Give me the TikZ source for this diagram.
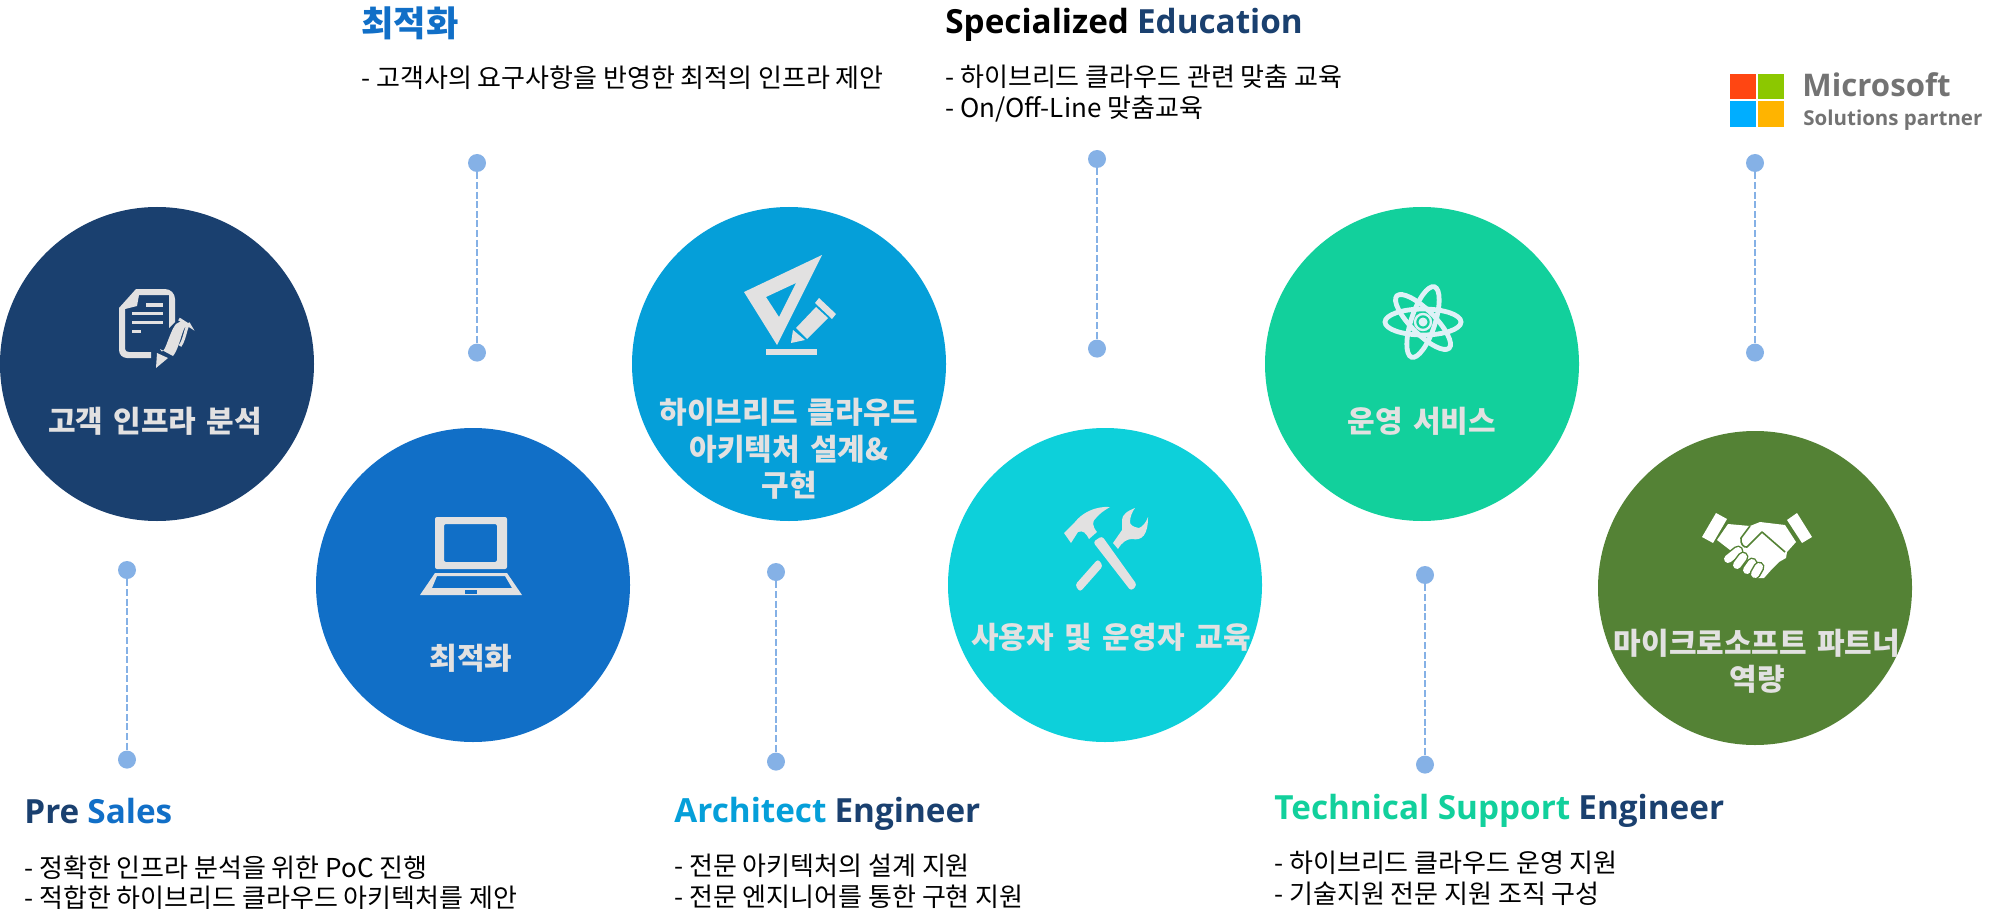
\documentclass[tikz,border=0pt]{standalone}
\usepackage{fontspec}
\setmainfont{Noto Sans CJK KR}
\newfontfamily\lat[Scale=0.945]{Open Sans}
\newfontfamily\med[WordSpace=1.5]{Noto Sans CJK KR}
\newfontfamily\logo{Open Sans}
\usetikzlibrary{positioning}
\definecolor{navy}{HTML}{1A406F}
\definecolor{blue2}{HTML}{116FC7}
\definecolor{sky}{HTML}{059FD9}
\definecolor{cyan2}{HTML}{0DD0DA}
\definecolor{mint}{HTML}{12D09C}
\definecolor{olive2}{HTML}{548235}
\definecolor{lite}{HTML}{E2E1E1}
\definecolor{pale}{HTML}{DFF1F7}
\definecolor{dotc}{HTML}{85B1E6}
\definecolor{msred}{HTML}{FF4612}
\definecolor{msgreen}{HTML}{8CC800}
\definecolor{msblue}{HTML}{00AEFF}
\definecolor{msyellow}{HTML}{FFB400}
\tikzset{
	bubble/.style={circle, minimum size=157pt, inner sep=0pt},
	lbl/.style={text=lite, font=\med\bfseries\fontsize{15}{18.2}\selectfont, align=center, inner sep=0pt},
	head/.style={anchor=west, inner sep=0pt, text height=14pt, text depth=4pt, font=\bfseries\fontsize{17.6}{20}\selectfont},
	body/.style={anchor=north west, inner sep=0pt, align=left, font=\fontsize{13}{15.3}\selectfont},
	pin/.style={circle, fill=dotc, minimum size=9pt, inner sep=0pt},
	icon/.style={fill=lite, draw=none},
	orbit/.style={draw=pale, line width=2.4pt}
}
\begin{document}
\begin{tikzpicture}[x=0.5pt, y=-0.5pt, node distance=94.8pt]
		\useasboundingbox (0,0) rectangle (1995,909);

		\node (c1) [bubble, fill=navy] at (157,364) {};
		\node (c2) [bubble, fill=blue2] at (473,585) {};
		\node (c3) [bubble, fill=sky] at (789,364) {};
		\node (c4) [bubble, fill=cyan2] at (1105,585) {};
		\node (c5) [bubble, fill=mint] at (1422,364) {};
		\node (c6) [bubble, fill=olive2] at (1755,588) {};

		\node (l1) [lbl] at (155,421) {고객 인프라 분석};
		\node (l2) [lbl] at (471,658) {최적화};
		\node (l3) [lbl] at (789,449) {하이브리드 클라우드\\아키텍처 설계\&\\구현};
		\node (l4) [lbl] at (1111,637) {사용자 및 운영자 교육};
		\node (l5) [lbl] at (1422,421) {운영 서비스};
		\node (l6) [lbl] at (1757,661) {마이크로소프트 파트너\\역량};

		\node (t1) [pin] at (127,570) {};
		\node (b1) [pin, below of=t1] {};
		\node (t2) [pin] at (477,163) {};
		\node (b2) [pin, below of=t2] {};
		\node (t3) [pin] at (776,572) {};
		\node (b3) [pin, below of=t3] {};
		\node (t4) [pin] at (1097,159) {};
		\node (b4) [pin, below of=t4] {};
		\node (t5) [pin] at (1425,575) {};
		\node (b5) [pin, below of=t5] {};
		\node (t6) [pin] at (1755,163) {};
		\node (b6) [pin, below of=t6] {};

		\path[draw=dotc, line width=1.25pt, dash pattern=on 3.5pt off 1.3pt]
		(t1) edge (b1)
		(t2) edge (b2)
		(t3) edge (b3)
		(t4) edge (b4)
		(t5) edge (b5)
		(t6) edge (b6);

		\node (h1) [head] at (24,813) {\textcolor{navy}{\lat Pre} \textcolor{blue2}{\lat Sales}};
		\node (p1) [body, below=21pt of h1.west, anchor=north west] {- 정확한 인프라 분석을 위한 PoC 진행\\- 적합한 하이브리드 클라우드 아키텍처를 제안};
		\node (h2) [head, text=blue2] at (361,27) {최적화};
		\node (p2) [body, below=19pt of h2.west, anchor=north west] {- 고객사의 요구사항을 반영한 최적의 인프라 제안};
		\node (h3) [head] at (674,812) {\textcolor{sky}{\lat Architect} \textcolor{navy}{\lat Engineer}};
		\node (p3) [body, below=21pt of h3.west, anchor=north west] {- 전문 아키텍처의 설계 지원\\- 전문 엔지니어를 통한 구현 지원};
		\node (h4) [head] at (945,24) {{\lat Specialized} \textcolor{navy}{\lat Education}};
		\node (p4) [body, below=20.3pt of h4.west, anchor=north west] {- 하이브리드 클라우드 관련 맞춤 교육\\- On/Off-Line 맞춤교육};
		\node (h5) [head] at (1274,809) {\textcolor{mint}{\lat Technical Support} \textcolor{navy}{\lat Engineer}};
		\node (p5) [body, below=21pt of h5.west, anchor=north west] {- 하이브리드 클라우드 운영 지원\\- 기술지원 전문 지원 조직 구성};

		\fill[icon] (119,308) -- (136,289) -- (165,289) to[out=0,in=90] (175,299) -- (175,322) -- (169,328) -- (169,295) -- (139,295) -- (137,306) -- (125,309) -- (125,349) to[out=270,in=180] (129,352) -- (151,352) -- (151,358) -- (127,358) to[out=180,in=270] (119,350) -- cycle;
		\fill[icon] (129,306) -- (135,294) -- (134,304) -- cycle;
		\fill[icon] (146,303) rectangle (163,306.5);
		\fill[icon] (132,311.5) rectangle (163,315);
		\fill[icon] (132,320.5) rectangle (163,324);
		\fill[icon] (132,329.5) rectangle (141,333);
		\fill[icon] (160,349) to[out=-70,in=-130] (176,324) -- (183,320) -- (188,329) to[out=110,in=50] (173,356) -- cycle;
		\fill[icon] (156,368) -- (157,353) -- (168,358) -- cycle;
		\draw[lite, line width=1.5pt] (179,319) -- (190,326) to[out=110,in=50] (180,346);

		\fill[icon, even odd rule] (744,292) -- (822,255) -- (777,345) -- cycle (766,297) -- (796,283) -- (779,317) -- cycle;
		\fill[icon] (766,349) rectangle (817,355);
		\fill[icon] (796,328) -- (816,307) -- (828,318) -- (807,339) -- cycle;
		\fill[icon] (815,303) -- (819,298) -- (836,314) -- (832,319) -- cycle;
		\fill[icon] (791,343) -- (793,330) -- (805,340) -- cycle;

		\fill[icon, even odd rule, rounded corners=1pt] (435,517) rectangle (507,569) (444,524) rectangle (497,562);
		\fill[icon, even odd rule] (435,573) -- (507,573) -- (522,595) -- (420,595) -- cycle (437,576) -- (505,576) -- (512,588) -- (432,588) -- cycle;
		\fill[blue2] (465,590) rectangle (477,594);

		\fill[icon] (1110,507) .. controls (1095,506) and (1082,513) .. (1075,522) -- (1064,533) -- (1071,543) -- (1078,532) .. controls (1083,530) and (1086,533) .. (1089,539) -- (1097,532) .. controls (1092,526) and (1092,521) .. (1096,518) .. controls (1100,513) and (1105,510) .. (1110,507) -- cycle;
		\fill[icon, rounded corners=1.5pt] (1093,542) -- (1102,536) -- (1137,585) -- (1131,591) -- cycle;
		\fill[icon, rounded corners=1.5pt] (1075,585) -- (1080,592) -- (1103,566) -- (1098,559) -- cycle;
		\fill[icon] (1113,543) -- (1118,549) .. controls (1122,542) and (1127,539) .. (1132,539) .. controls (1142,541) and (1148,535) .. (1148,517) .. controls (1146,523) and (1142,527) .. (1139,528) .. controls (1133,527) and (1130,525) .. (1130,522) .. controls (1130,517) and (1132,512) .. (1135,508) .. controls (1127,511) and (1122,515) .. (1122,520) -- (1122,530) -- cycle;

		\draw[orbit] (1423,322) ellipse [x radius=38, y radius=13];
		\draw[orbit, rotate around={72:(1423,322)}] (1423,322) ellipse [x radius=37, y radius=12];
		\draw[orbit, rotate around={-45:(1423,322)}] (1423,322) ellipse [x radius=37, y radius=12];
		\draw[draw=pale, line width=1.2pt] (1423,322) circle [radius=8];
		\fill[pale] (1423,322) circle [radius=4.5];

		\fill[white] (1702,537) -- (1716,513) -- (1727,519) -- (1713,543) -- cycle;
		\fill[white] (1787,520) -- (1797,513) -- (1812,537) -- (1802,543) -- cycle;
		\fill[white] (1717,540) -- (1728,524) -- (1750,526) -- (1760,522) -- (1785,525) -- (1796,542) -- (1787,552) -- (1786,558) -- (1779,562) -- (1772,569) -- (1764,578) -- (1757,578) -- (1740,558) -- (1730,550) -- cycle;
		\draw[olive2, line width=0.8pt, line join=round] (1750,526) -- (1741,538) .. controls (1740,544) and (1744,548) .. (1747,547) -- (1762,532) -- (1785,552);
		\foreach \xa/\ya/\xb/\yb in {1728/559/1738/551, 1737/565/1743/557, 1747/570/1752/563, 1755/574/1759/567}{
			\draw[olive2, line width=5.5pt, line cap=round] (\xa,\ya) -- (\xb,\yb);
			\draw[white, line width=4pt, line cap=round] (\xa,\ya) -- (\xb,\yb);
		}

		\fill[msred] (1730,74) rectangle (1756,99);
		\fill[msgreen] (1758,74) rectangle (1784,99);
		\fill[msblue] (1730,101) rectangle (1756,127);
		\fill[msyellow] (1758,101) rectangle (1784,127);
		\node (ms) [anchor=west, inner sep=0pt, text=black!55, font=\logo\bfseries\fontsize{15.6}{20}\selectfont] at (1802,85) {Microsoft};
		\node (sp) [anchor=west, inner sep=0pt, text=black!55, font=\logo\bfseries\fontsize{10.25}{13}\selectfont] at (1803,120) {Solutions partner};

		\end{tikzpicture}
\end{document}
